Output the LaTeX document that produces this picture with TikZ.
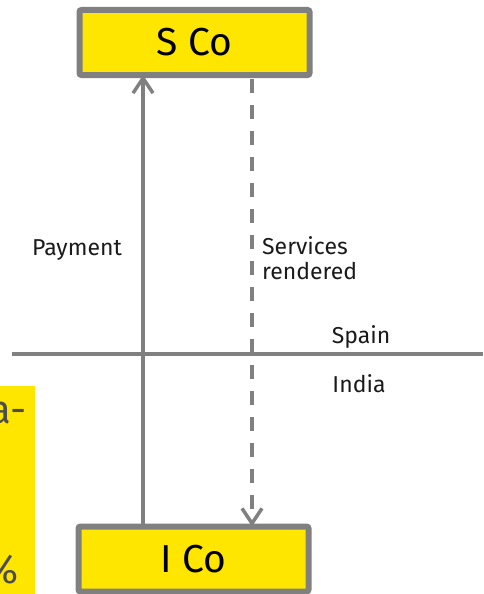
\documentclass[tikz,border=0pt]{standalone}
\usepackage{fontspec}
\setmainfont{Fira Sans}
\usetikzlibrary{arrows.meta}
\definecolor{eyyellow}{HTML}{FFE600}
\definecolor{eygray}{HTML}{808080}
\definecolor{eytext}{HTML}{1A1A1A}
\definecolor{eydark}{HTML}{4D4D4F}
\tikzset{
  cobox/.style={draw=eygray, line width=6pt, fill=eyyellow, rounded corners=2pt,
    minimum width=230pt, minimum height=65pt, inner sep=0pt, outer sep=0pt,
    font=\fontsize{39}{44}\selectfont, text=black},
  lbl/.style={font=\fontsize{23}{25}\selectfont, text=eytext, inner sep=0pt},
  flow/.style={draw=eygray, line width=3.5pt},
  tip/.style={-{Straight Barb[length=15pt,width=20pt]}}
}
\begin{document}
\begin{tikzpicture}[x=1pt,y=-1pt]
\useasboundingbox (0,0) rectangle (483,594);
% clipped fragment at the left
\begin{scope}
  \clip (0,386) rectangle (35,594);
  \fill[eyyellow] (0,386) rectangle (35,594);
  \node[anchor=base east, inner sep=0pt, text=eydark, font=\fontsize{40}{44}\selectfont] (frag1) at (27,423) {a-};
  \node[anchor=base east, inner sep=0pt, text=eydark, font=\fontsize{40}{44}\selectfont] (frag2) at (19,583) {\%};
\end{scope}
% companies
\node[cobox] (S) at (194.5,42.5) {S Co};
\node[cobox] (I) at (193.5,559) {I Co};
% border line
\coordinate (bl) at (12,354);
\coordinate (br) at (483,354);
\draw[flow] (bl) -- (br);
% flows
\coordinate (pay) at (143,0);
\coordinate (srv) at (252,0);
\draw[flow, tip] (I.north -| pay) -- (S.south -| pay);
\draw[flow, tip, dash pattern=on 14pt off 12pt, dash phase=-4pt] (S.south -| srv) -- (I.north -| srv);
% labels
\node[lbl] (paylbl) at (77,250) {Payment};
\node[lbl, anchor=north west, align=left, font=\fontsize{23}{25}\selectfont] (srvlbl) at (262,236) {Services\\rendered};
\node[lbl] (spain) at (361,337) {Spain};
\node[lbl] (india) at (359,384) {India};
\end{tikzpicture}
\end{document}
